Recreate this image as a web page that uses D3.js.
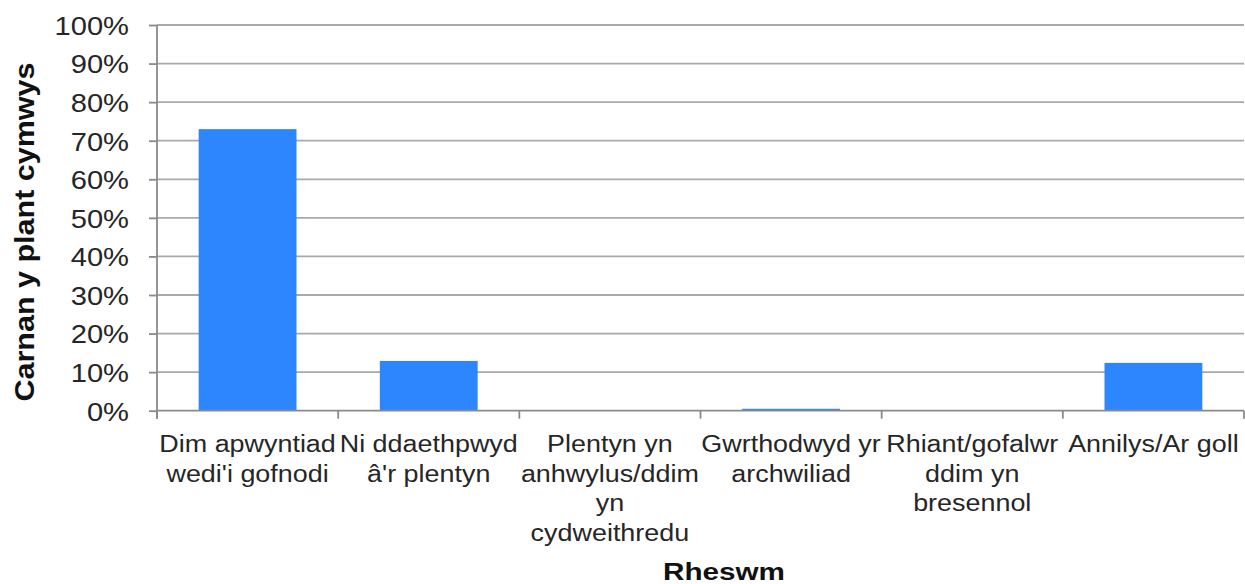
<!DOCTYPE html>
<html>
<head>
<meta charset="utf-8">
<script src="https://cdn.jsdelivr.net/npm/d3@7"></script>
<style>
  html, body { margin: 0; padding: 0; background: #fff; }
  svg { display: block; font-family: "Liberation Sans", Arial, sans-serif; }
</style>
</head>
<body>
<svg id="chart" width="1245" height="584"></svg>
<script>
// ---- data ----
const categories = [
  "Dim apwyntiad wedi'i gofnodi",
  "Ni ddaethpwyd â'r plentyn",
  "Plentyn yn anhwylus/ddim yn cydweithredu",
  "Gwrthodwyd yr archwiliad",
  "Rhiant/gofalwr ddim yn bresennol",
  "Annilys/Ar goll"
];
const categoryLines = [
  ["Dim apwyntiad", "wedi'i gofnodi"],
  ["Ni ddaethpwyd", "â'r plentyn"],
  ["Plentyn yn", "anhwylus/ddim", "yn", "cydweithredu"],
  ["Gwrthodwyd yr", "archwiliad"],
  ["Rhiant/gofalwr", "ddim yn", "bresennol"],
  ["Annilys/Ar goll"]
];
const values = [73, 12.9, 0, 0.5, 0, 12.4];
const yTicks = [0, 10, 20, 30, 40, 50, 60, 70, 80, 90, 100];
const yTitle = "Carnan y plant cymwys";
const xTitle = "Rheswm";

// ---- layout ----
const svg = d3.select("#chart");
const plotLeft = 157, plotRight = 1244, plotTop = 25, plotBottom = 410.7;

const x = d3.scaleBand().domain(categories).range([plotLeft, plotRight])
  .paddingInner(0.46).paddingOuter(0.23);
const y = d3.scaleLinear().domain([0, 100]).range([plotBottom, plotTop]);

function stretch(sel, k) {
  sel.each(function () {
    const len = this.getComputedTextLength();
    d3.select(this).attr("textLength", len * k).attr("lengthAdjust", "spacingAndGlyphs");
  });
}

// gridlines
svg.append("g").selectAll("line").data(yTicks.filter(d => d > 0)).join("line")
  .attr("x1", plotLeft).attr("x2", plotRight)
  .attr("y1", d => y(d)).attr("y2", d => y(d))
  .attr("stroke", "#a9a9a9").attr("stroke-width", 1.8);

// bars
svg.append("g").selectAll("rect").data(values).join("rect")
  .attr("x", (d, i) => x(categories[i]))
  .attr("width", x.bandwidth())
  .attr("y", d => y(d))
  .attr("height", d => y(0) - y(d))
  .attr("fill", "#2e86ff");

// y axis
const yAxis = svg.append("g").attr("transform", `translate(${plotLeft},0)`)
  .call(d3.axisLeft(y).tickValues(yTicks).tickSize(8).tickPadding(20)
    .tickFormat(d => d + "%"));
yAxis.select(".domain").attr("stroke", "#8a8a8a").attr("stroke-width", 1.8)
  .attr("d", `M-0,${y(100)}V${y(0) + 8}`);
yAxis.selectAll(".tick line").attr("stroke", "#8a8a8a").attr("stroke-width", 1.8);
yAxis.selectAll(".tick text")
  .attr("font-size", 26).attr("fill", "#262626")
  .attr("font-family", "'Liberation Sans', Arial, sans-serif")
  .attr("dy", "0.36em")
  .call(stretch, 1.12);

// x axis (ticks at category boundaries)
const boundaries = categories.map(c => x(c) - x.step() * x.paddingOuter());
boundaries.push(plotRight);
const xAxisG = svg.append("g");
xAxisG.append("line").attr("x1", plotLeft).attr("x2", plotRight)
  .attr("y1", y(0)).attr("y2", y(0))
  .attr("stroke", "#8a8a8a").attr("stroke-width", 1.8);
xAxisG.selectAll("line.tk").data(boundaries).join("line").attr("class", "tk")
  .attr("x1", d => d).attr("x2", d => d)
  .attr("y1", y(0)).attr("y2", y(0) + 8)
  .attr("stroke", "#8a8a8a").attr("stroke-width", 1.8);

// category labels
const lab = svg.append("g");
categoryLines.forEach((lines, i) => {
  const cx = x(categories[i]) + x.bandwidth() / 2;
  lines.forEach((t, j) => {
    lab.append("text")
      .attr("x", cx).attr("y", 452 + j * 29.5)
      .attr("text-anchor", "middle")
      .attr("font-size", 23).attr("fill", "#262626")
      .text(t);
  });
});
lab.selectAll("text").call(stretch, 1.17);

// axis titles
svg.append("text")
  .attr("transform", `translate(34,232) rotate(-90)`)
  .attr("text-anchor", "middle")
  .attr("font-size", 27).attr("font-weight", "bold").attr("fill", "#111")
  .attr("textLength", 339).attr("lengthAdjust", "spacingAndGlyphs")
  .text(yTitle);

svg.append("text")
  .attr("x", 724).attr("y", 580)
  .attr("text-anchor", "middle")
  .attr("font-size", 23).attr("font-weight", "bold").attr("fill", "#111")
  .attr("textLength", 122).attr("lengthAdjust", "spacingAndGlyphs")
  .text(xTitle);
</script>
</body>
</html>
